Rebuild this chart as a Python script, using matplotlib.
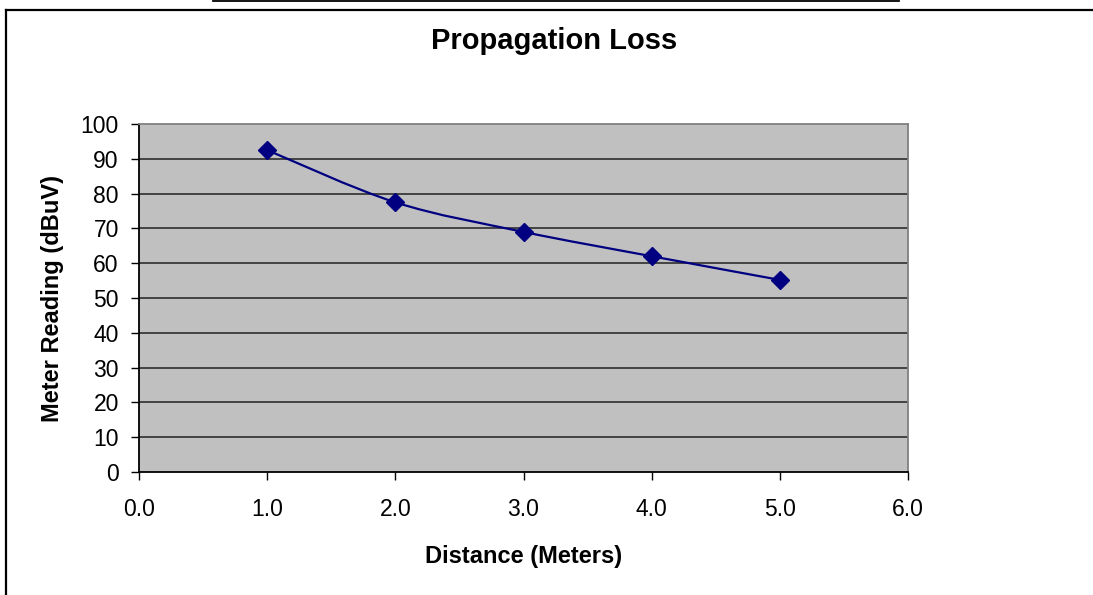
import matplotlib
matplotlib.use("Agg")
import matplotlib.pyplot as plt
from matplotlib.path import Path
from matplotlib.patches import PathPatch
from matplotlib.lines import Line2D
import numpy as np

distance = [1.0, 2.0, 3.0, 4.0, 5.0]
reading = [92.5, 77.5, 69.0, 62.0, 55.2]
x_ticks = [0.0, 1.0, 2.0, 3.0, 4.0, 5.0, 6.0]
y_ticks = [0, 10, 20, 30, 40, 50, 60, 70, 80, 90, 100]

plt.rcParams['font.family'] = ['Liberation Sans', 'DejaVu Sans']

W, H = 1093, 595
fig = plt.figure(figsize=(W / 100, H / 100), dpi=100)
fig.patch.set_facecolor('white')

ax = fig.add_axes([139 / W, 1 - 472 / H, (908 - 139) / W, (472 - 124) / H])
ax.set_facecolor('#C0C0C0')
ax.set_xlim(0, 6)
ax.set_ylim(0, 100)
ax.set_xticks(x_ticks)
ax.set_xticklabels([f"{v:.1f}" for v in x_ticks])
ax.set_yticks(y_ticks)
ax.set_yticklabels([str(v) for v in y_ticks])
ax.tick_params(axis='both', direction='out', length=6, width=1, color='black',
               labelsize=16.5)
ax.tick_params(axis='y', pad=8.5)
ax.tick_params(axis='x', pad=13)
for yv in y_ticks[1:-1]:
    ax.axhline(yv, color='#222222', lw=1.1, zorder=1)
ax.spines['left'].set_color('black')
ax.spines['bottom'].set_color('black')
ax.spines['top'].set_color('#808080')
ax.spines['right'].set_color('#808080')
for s in ax.spines.values():
    s.set_linewidth(1.3)

# smoothed line (Catmull-Rom style Bezier through data points)
xs = np.array(distance)
ys = np.array(reading)
verts = [(xs[0], ys[0])]
codes = [Path.MOVETO]
n = len(xs)
for i in range(n - 1):
    p0 = np.array([xs[max(i - 1, 0)], ys[max(i - 1, 0)]])
    p1 = np.array([xs[i], ys[i]])
    p2 = np.array([xs[i + 1], ys[i + 1]])
    p3 = np.array([xs[min(i + 2, n - 1)], ys[min(i + 2, n - 1)]])
    c1 = p1 + (p2 - p0) / 6
    c2 = p2 - (p3 - p1) / 6
    verts += [tuple(c1), tuple(c2), tuple(p2)]
    codes += [Path.CURVE4] * 3
ax.add_patch(PathPatch(Path(verts, codes), facecolor='none', edgecolor='#000080',
                       lw=1.6, zorder=3))
ax.plot(distance, reading, linestyle='none', marker='D', markersize=9,
        color='#000080', zorder=4, clip_on=False)

ax.set_xlabel('Distance (Meters)', fontsize=17, fontweight='bold', labelpad=17)
ax.set_ylabel('Meter Reading (dBuV)', fontsize=17, fontweight='bold', labelpad=12)

fig.text(554 / W, 1 - 41 / H, 'Propagation Loss', ha='center', va='center',
         fontsize=21, fontweight='bold')

# outer frame lines
fig.add_artist(Line2D([6 / W, 1.0], [1 - 10 / H, 1 - 10 / H], transform=fig.transFigure,
                      color='black', lw=1.6))
fig.add_artist(Line2D([6 / W, 6 / W], [1 - 10 / H, 0], transform=fig.transFigure,
                      color='black', lw=1.6))
fig.add_artist(Line2D([213 / W, 899 / W], [1 - 0.8 / H, 1 - 0.8 / H], transform=fig.transFigure,
                      color='black', lw=1.3))

fig.savefig('out.png', dpi=100)
